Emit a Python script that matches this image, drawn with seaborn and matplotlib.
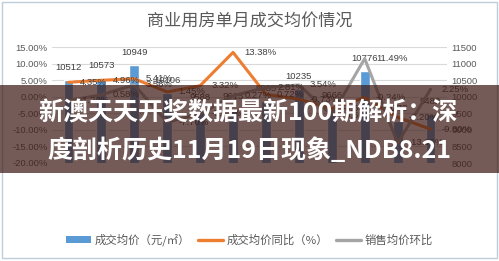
import matplotlib
matplotlib.use("Agg")
import matplotlib.pyplot as plt
import seaborn as sns
import pandas as pd
from matplotlib.patches import Rectangle, Patch
from matplotlib.lines import Line2D

months = ['7月', '8月', '9月', '10月', '11月', '12月', '2024年1-2月', '3月', '4月', '5月', '6月', '7月']
price = [10512, 10573, 10949, 10106, 9588, 9615, 9885, 10235, 9666, 10776, 9273, 9482]
yoy = [4.35, 4.96, 5.41, 1.45, 3.32, 13.38, 0.72, -0.73, -3.60, -0.24, -6.20, -9.80]
mom = [-1.20, 0.58, 3.56, -7.70, -5.13, 0.27, 2.81, 3.54, -5.56, 11.49, -13.95, 2.25]
pct_ticks = [-20, -15, -10, -5, 0, 5, 10, 15]
price_ticks = [8000, 8500, 9000, 9500, 10000, 10500, 11000, 11500]

title = '商业用房单月成交均价情况'
legend_labels = ['成交均价（元/㎡）', '成交均价同比（%）', '销售均价环比']
banner_lines = ['新澳天天开奖数据最新100期解析：深', '度剖析历史11月19日现象_NDB8.21']

sns.set_theme(style='white')
plt.rcParams['font.family'] = ['Liberation Sans', 'Noto Sans CJK SC', 'DejaVu Sans']

BLUE = '#5B9BD5'
ORANGE = '#ED7D31'
GRAY = '#A5A5A5'
TXT = '#595959'

df = pd.DataFrame({'idx': list(range(len(months))), 'price': price, 'yoy': yoy, 'mom': mom})

fig = plt.figure(figsize=(4.99, 2.61), dpi=100)
fig.patch.set_facecolor('white')
ax = fig.add_axes([52 / 499, 1 - 163 / 261, (447 - 52) / 499, (163 - 47) / 261])
ax2 = ax.twinx()

# bars (price) on bottom axis, shown on the right
sns.barplot(data=df, x='idx', y='price', ax=ax, color=BLUE, width=0.3, saturation=1)
ax.set_ylim(8000, 11500)
ax.set_yticks(price_ticks)
ax.yaxis.tick_right()
ax.yaxis.set_label_position('right')
ax.set_xlim(-0.5, len(months) - 0.5)
ax.grid(axis='y', color='#D9D9D9', lw=0.8)
ax.set_axisbelow(True)
for i, v in enumerate(price):
    ax.annotate(f'{v}', (i, v), xytext=(0, 9), textcoords='offset points',
                ha='center', va='center', fontsize=6.8, color='#404040')

# lines (percent) on top axis, shown on the left
sns.lineplot(data=df, x='idx', y='yoy', ax=ax2, color=ORANGE, lw=2.2)
sns.lineplot(data=df, x='idx', y='mom', ax=ax2, color=GRAY, lw=2.2)
ax2.set_ylim(-20, 15)
ax2.set_yticks(pct_ticks)
ax2.set_yticklabels([f'{t:.2f}%' for t in pct_ticks])
ax2.yaxis.tick_left()
ax2.yaxis.set_label_position('left')
ax2.set_xlim(-0.5, len(months) - 0.5)
for series in (yoy, mom):
    for i, v in enumerate(series):
        ax2.annotate(f'{v:.2f}%', (i, v), xytext=(8, 0), textcoords='offset points',
                     ha='left', va='center', fontsize=6.8, color='#404040')

for a in (ax, ax2):
    for s in a.spines.values():
        s.set_visible(False)
    a.set_xlabel('')
    a.set_ylabel('')
    a.tick_params(axis='both', length=0, labelsize=6.8, labelcolor=TXT, pad=3)

ax.set_xticks(range(len(months)))
ax.set_xticklabels(months, rotation=45, ha='right', va='top', rotation_mode='anchor', fontsize=6.8, color=TXT)
ax2.set_xticks([])

fig.text(0.5, 1 - 22 / 261, title, ha='center', va='center', fontsize=12.3, color=TXT,
         family=['Noto Sans CJK SC', 'DejaVu Sans'])

handles = [Patch(facecolor=BLUE, edgecolor='none'),
           Line2D([0], [0], color=ORANGE, lw=2.4),
           Line2D([0], [0], color=GRAY, lw=2.4)]
leg = fig.legend(handles, legend_labels, loc='center', bbox_to_anchor=(0.5, 1 - 240 / 261), ncol=3,
                 frameon=False, handlelength=2.2, handleheight=0.6,
                 handletextpad=0.3, columnspacing=0.7,
                 prop={'family': ['Noto Sans CJK SC', 'DejaVu Sans'], 'size': 8.2})
for t in leg.get_texts():
    t.set_color(TXT)

# outer frame
fig.patches.append(Rectangle((0.004, 0.01), 0.991, 0.982, transform=fig.transFigure,
                             fill=False, edgecolor='#BFCDD8', lw=1.0))

# banner overlay
fig.patches.append(Rectangle((0, 1 - 173 / 261), 1, (173 - 85) / 261, transform=fig.transFigure,
                             facecolor='#3e1c17', alpha=0.72, edgecolor='none', zorder=10))
fig.text(0.497, 1 - 113 / 261, banner_lines[0], ha='center', va='center', fontsize=18,
         color='white', fontweight='bold', zorder=11, family=['Noto Sans CJK SC', 'DejaVu Sans'])
fig.text(0.5, 1 - 150 / 261, banner_lines[1], ha='center', va='center', fontsize=18,
         color='white', fontweight='bold', zorder=11, family=['Noto Sans CJK SC', 'DejaVu Sans'])

fig.savefig('out.png', dpi=100, facecolor='white')
